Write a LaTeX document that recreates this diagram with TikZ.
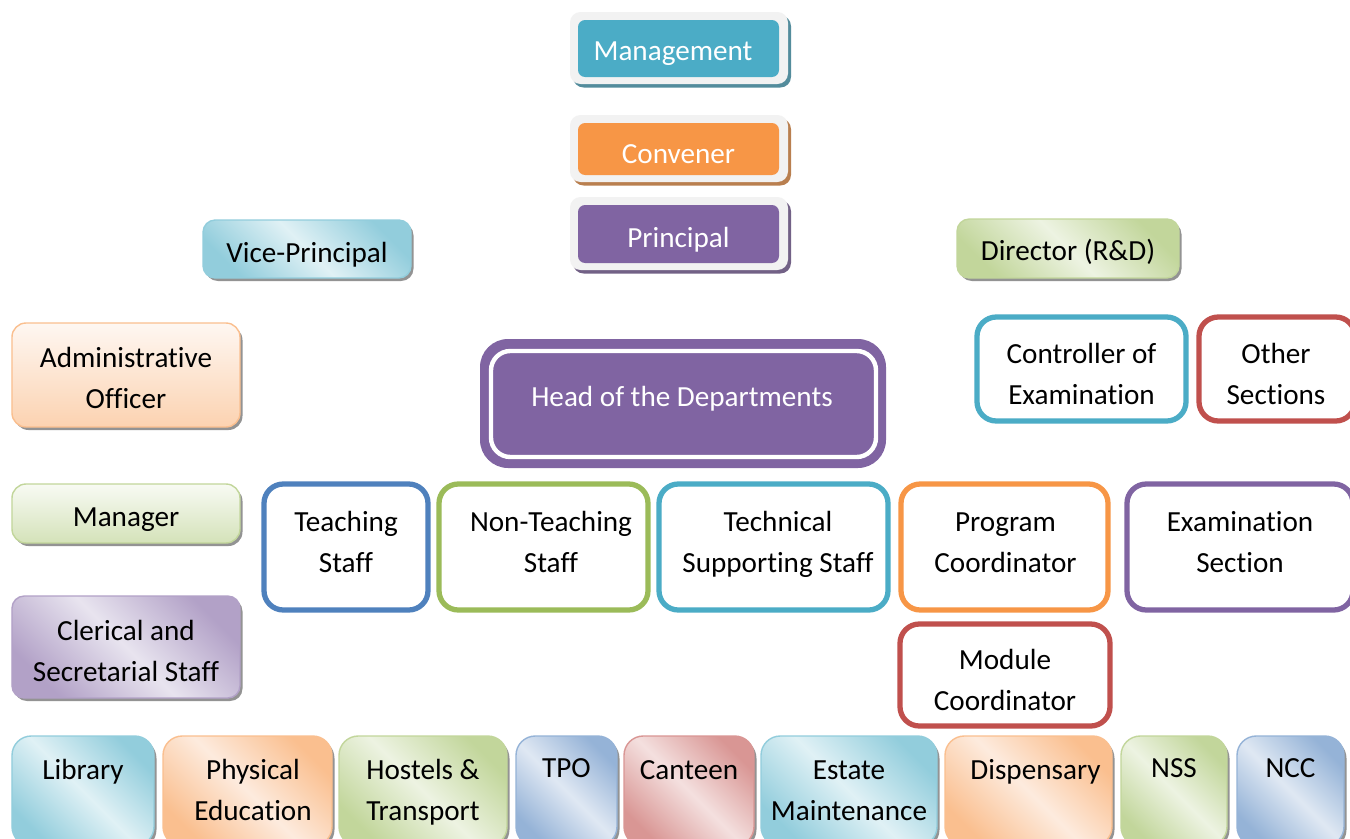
\documentclass[tikz,border=0pt]{standalone}
\usepackage{fontspec}
\setmainfont{Carlito}[Ligatures=NoCommon]
\usetikzlibrary{shadows}
\definecolor{teal}{HTML}{4BACC6}\definecolor{tealL}{HTML}{92CDDC}\definecolor{tealXL}{HTML}{E0F1F5}
\definecolor{orng}{HTML}{F79646}\definecolor{orngL}{HTML}{FABF8F}\definecolor{orngXL}{HTML}{FDEBDE}
\definecolor{purp}{HTML}{8064A2}\definecolor{purpL}{HTML}{B2A1C7}\definecolor{purpXL}{HTML}{E8E4EF}
\definecolor{blu}{HTML}{4F81BD}\definecolor{bluL}{HTML}{95B3D7}\definecolor{bluXL}{HTML}{DFE8F3}
\definecolor{grn}{HTML}{9BBB59}\definecolor{grnL}{HTML}{C2D69B}\definecolor{grnXL}{HTML}{EDF3E2}
\definecolor{rd}{HTML}{C0504D}\definecolor{rdL}{HTML}{D99694}\definecolor{rdXL}{HTML}{F4E0DF}
\definecolor{framegray}{HTML}{F2F2F2}
\newcommand{\bx}[7]{%
  \pgfmathsetmacro{\bw}{(#4-#2)*0.02}%
  \pgfmathsetmacro{\bh}{(#5-#3)*0.02}%
  \node[#6, minimum width=\bw cm, minimum height=\bh cm] (#1) at ({(#2+#4)/2},{(#3+#5)/2}) {#7};%
}
% text placed with offsets in pixels: #1 = horizontal shift (right), #2 = vertical shift (down)
\newcommand{\yoff}{10}
\newcommand{\tx}[3]{%
  \pgfmathsetlengthmacro{\tys}{-(#2+\yoff)*0.02cm}%
  \pgfmathsetlengthmacro{\txs}{2*(#1)*0.02cm}%
  \hspace*{\txs}\raisebox{\tys}[0pt][0pt]{\begin{tabular}[c]{@{}c@{}}#3\end{tabular}}}
\tikzset{
  every node/.style={font=\fontsize{16.6}{23.3}\selectfont, align=center, inner sep=0pt},
  topframe/.style={fill=framegray, rounded corners=6pt,
     drop shadow={shadow xshift=0.06cm, shadow yshift=-0.07cm, fill=#1, opacity=0.85}},
  topbox/.style={fill=#1, rounded corners=4pt, text=white},
  gdiag/.style 2 args={draw=#1, line width=0.8pt, left color=#1, right color=#1, middle color=#2,
     shading angle=-45, rounded corners=7pt,
     drop shadow={shadow xshift=0.05cm, shadow yshift=-0.06cm, fill=black!60, opacity=0.7}},
  gdiagb/.style 2 args={gdiag={#1}{#2}, rounded corners=11pt},
  gvert/.style n args={3}{draw=#1, line width=0.8pt, top color=#2, bottom color=#3, rounded corners=8pt,
     drop shadow={shadow xshift=0.05cm, shadow yshift=-0.06cm, fill=black!60, opacity=0.7}},
  obox/.style={draw=#1, line width=3pt, fill=white, rounded corners=11pt},
}
\begin{document}
\begin{tikzpicture}[x=0.02cm,y=-0.02cm]
\clip (0,0) rectangle (1350,839);
\fill[white] (0,0) rectangle (1350,839);
% top stack
\bx{mgmtframe}{570}{12}{788}{84}{topframe=teal!70!black}{}
\bx{mgmt}{578}{20}{779}{77}{topbox=teal}{\tx{-5.5}{1.5}{Management}}
\bx{convframe}{570}{115}{788}{182}{topframe=orng!70!black}{}
\bx{conv}{578}{123}{779}{175}{topbox=orng}{\tx{0}{4}{Convener}}
\bx{prinframe}{570}{197}{788}{270}{topframe=purp!70!black}{}
\bx{prin}{578}{205}{779}{263}{topbox=purp}{\tx{0}{3}{Principal}}
% second tier
\bx{vp}{203}{220}{411}{278}{gdiag={tealL}{tealXL}}{\tx{0}{3}{Vice-Principal}}
\bx{dir}{957}{219}{1179}{278}{gdiag={grnL}{grnXL}}{\tx{0}{1.5}{Director (R\&D)}}
% left column
\bx{ao}{12}{323}{240}{427}{gvert={orngL}{orngXL!40!white}{orngL!70!white}}{\tx{0}{2.5}{Administrative\\Officer}}
\bx{mgr}{12}{484}{240}{543}{gvert={grnL}{grnXL!40!white}{grnL!70!white}}{\tx{0}{2.5}{Manager}}
\bx{cler}{12}{596}{240}{698}{gdiag={purpL}{purpXL}}{\tx{0}{3.5}{Clerical and\\Secretarial Staff}}
% head of departments
\bx{hodframe}{480}{339}{886}{468}{fill=purp, rounded corners=16pt}{}
\bx{hod}{491}{351}{876}{457}{draw=white, line width=2.5pt, rounded corners=11pt, text=white}{\tx{-1.5}{-8}{Head of the Departments}}
% right upper
\bx{coe}{977}{317}{1186}{421}{obox=teal}{\tx{0}{4.5}{Controller of\\Examination}}
\bx{other}{1199}{317}{1355}{421}{obox=rd}{\tx{-1}{4.5}{Other\\Sections}}
% middle row
\bx{teach}{264}{484}{428}{610}{obox=blu}{\tx{0}{-5.5}{Teaching\\Staff}}
\bx{nonteach}{439}{484}{648}{610}{obox=grn}{\tx{7.5}{-5.5}{Non-Teaching\\Staff}}
\bx{tech}{659}{484}{888}{610}{obox=teal}{\tx{4.5}{-5.5}{Technical\\Supporting Staff}}
\bx{prog}{901}{484}{1108}{610}{obox=orng}{\tx{1}{-5.5}{Program\\Coordinator}}
\bx{exam}{1127}{484}{1353}{610}{obox=purp}{\tx{0}{-5.5}{Examination\\Section}}
\bx{mod}{900}{624}{1110}{726}{obox=rd}{\tx{0}{4}{Module\\Coordinator}}
% bottom row
\bx{lib}{12}{736}{154}{846}{gdiagb={tealL}{tealXL}}{\tx{0}{-22}{Library}}
\bx{phys}{163}{736}{332}{846}{gdiagb={orngL}{orngXL}}{\tx{5.5}{-1.5}{Physical\\Education}}
\bx{host}{339}{736}{507}{846}{gdiagb={grnL}{grnXL}}{\tx{0}{-1.5}{Hostels \&\\Transport}}
\bx{tpo}{516}{736}{617}{846}{gdiagb={bluL}{bluXL}}{\tx{0}{-24}{TPO}}
\bx{cant}{624}{736}{754}{846}{gdiagb={rdL}{rdXL}}{\tx{0}{-22}{Canteen}}
\bx{estate}{761}{736}{937}{846}{gdiagb={tealL}{tealXL}}{\tx{0}{-1.5}{Estate\\Maintenance}}
\bx{disp}{945}{736}{1112}{846}{gdiagb={orngL}{orngXL}}{\tx{7}{-22}{Dispensary}}
\bx{nss}{1121}{736}{1227}{846}{gdiagb={grnL}{grnXL}}{\tx{0}{-24}{NSS}}
\bx{ncc}{1237}{736}{1344}{846}{gdiagb={bluL}{bluXL}}{\tx{0}{-24}{NCC}}
\end{tikzpicture}
\end{document}
